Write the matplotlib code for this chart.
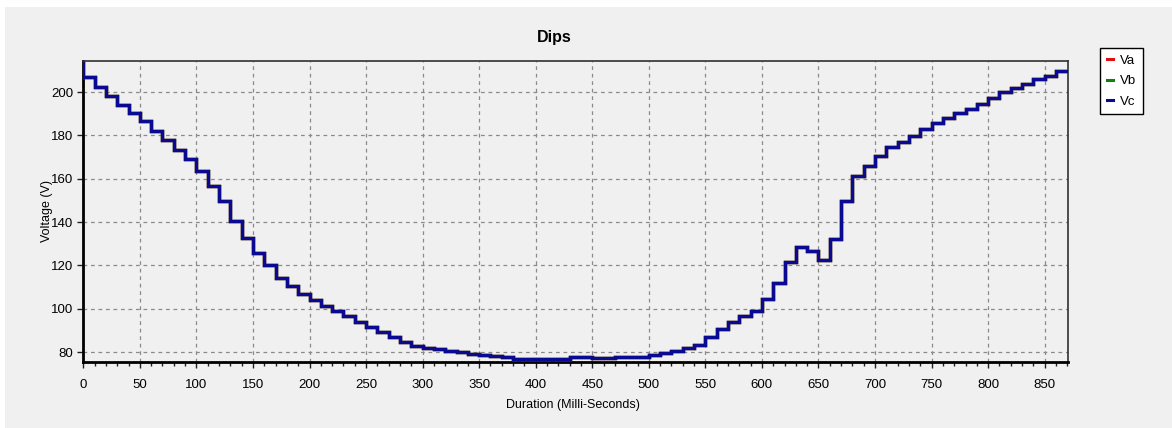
import matplotlib
matplotlib.use('Agg')
import matplotlib.pyplot as plt
from matplotlib.lines import Line2D
from matplotlib.patches import Rectangle
from matplotlib.ticker import MultipleLocator

plt.rcParams['font.family'] = ['Liberation Sans Narrow', 'Liberation Sans', 'DejaVu Sans']

# step start times (ms); first 0 repeated for the initial spike
TIME_MS = [0, 0, 10, 20, 30, 40, 50, 60, 70, 80, 90,
           100, 110, 120, 130, 140, 150, 160, 170, 180, 190,
           200, 210, 220, 230, 240, 250, 260, 270, 280, 290,
           300, 310, 320, 330, 340, 350, 360, 370, 380, 390,
           400, 410, 420, 430, 440, 450, 460, 470, 480, 490,
           500, 510, 520, 530, 540, 550, 560, 570, 580, 590,
           600, 610, 620, 630, 640, 650, 660, 670, 680, 690,
           700, 710, 720, 730, 740, 750, 760, 770, 780, 790,
           800, 810, 820, 830, 840, 850, 860, 870]

VC = [213.5, 207.2, 202.3, 198.3, 194.0, 190.6, 186.5, 182.3, 178.0, 173.5, 169.2,
      163.8, 156.9, 149.7, 140.6, 132.5, 125.6, 120.0, 114.4, 110.3, 106.8,
      104.1, 101.4, 98.8, 96.5, 93.7, 91.4, 89.1, 87.0, 84.6, 83.0,
      82.0, 81.2, 80.6, 79.8, 79.2, 78.7, 78.4, 77.7, 76.9, 76.9,
      76.9, 76.9, 76.9, 77.5, 77.5, 77.3, 77.3, 77.6, 77.6, 77.7,
      78.7, 79.5, 80.7, 81.8, 83.4, 87.1, 90.5, 93.8, 96.5, 99.1,
      104.5, 111.9, 121.7, 128.3, 126.7, 122.4, 132.4, 149.7, 161.5, 166.1,
      170.7, 174.7, 177.0, 179.6, 183.0, 185.7, 188.3, 190.3, 192.2, 194.5,
      197.5, 200.3, 201.8, 203.8, 206.0, 207.5, 209.8, 209.8]
# the three phases sit on top of each other
VA = list(VC)
VB = list(VC)

SERIES = ['Va', 'Vb', 'Vc']
COLORS = ['#e01010', '#108010', '#0a0a90']

X_TICKS = list(range(0, 851, 50))
Y_TICKS = [80, 100, 120, 140, 160, 180, 200]

W, H = 1172, 428
fig = plt.figure(figsize=(W / 100, H / 100), dpi=100, facecolor='white')
fig.patches.append(Rectangle((5 / W, 0), 1 - 5 / W, 1 - 7 / H, transform=fig.transFigure,
                             facecolor='#f0f0f0', edgecolor='none', zorder=-10))

ax = fig.add_axes([83.3 / W, 1 - 362 / H, (1068 - 83.3) / W, (362 - 61) / H])
ax.set_facecolor('#f0f0f0')

for vals, col in zip([VA, VB, VC], COLORS):
    ax.plot(TIME_MS, vals, drawstyle='steps-post', color=col, lw=2.4,
            solid_joinstyle='miter', zorder=3)

ax.set_xlim(0, 870.6)
ax.set_ylim(75.4, 214.4)
ax.set_xticks(X_TICKS)
ax.set_yticks(Y_TICKS)
ax.xaxis.set_minor_locator(MultipleLocator(10))
ax.tick_params(axis='both', which='major', labelsize=9.5, length=4, width=1, color='#202020')
ax.tick_params(axis='x', which='major', pad=8)
ax.tick_params(axis='y', which='major', pad=3)
ax.tick_params(axis='x', which='minor', length=3, width=1, color='#202020')

ax.grid(True, which='major', color='#8a8a8a', lw=0.9, linestyle=(0, (3, 3)))

for side in ['top', 'right']:
    ax.spines[side].set_color('#303030')
    ax.spines[side].set_linewidth(1.2)
for side in ['bottom', 'left']:
    ax.spines[side].set_color('black')
    ax.spines[side].set_linewidth(2)

ax.set_xlabel('Duration (Milli-Seconds)', fontsize=9)
ax.xaxis.set_label_coords(0.497, -(405 - 362) / (362 - 61))
ax.xaxis.label.set_va('center')
ax.set_ylabel('Voltage (V)', fontsize=9)
ax.yaxis.set_label_coords(-(83.3 - 47) / (1068 - 83.3), 0.5)
ax.yaxis.label.set_va('center')

fig.text(554 / W, 1 - 37.5 / H, 'Dips', fontsize=11.5, fontweight='bold', ha='center', va='center')

handles = [Line2D([0], [0], color=c, lw=2.2) for c in COLORS]
leg = fig.legend(handles, SERIES, loc='upper left', bbox_to_anchor=(1100 / W, 1 - 48 / H),
                 fontsize=9.5, handlelength=0.5, handletextpad=0.5, borderpad=0.5,
                 labelspacing=0.62, fancybox=False, framealpha=1, borderaxespad=0)
leg.get_frame().set_edgecolor('black')
leg.get_frame().set_linewidth(1)

fig.savefig('out.png', dpi=100)
